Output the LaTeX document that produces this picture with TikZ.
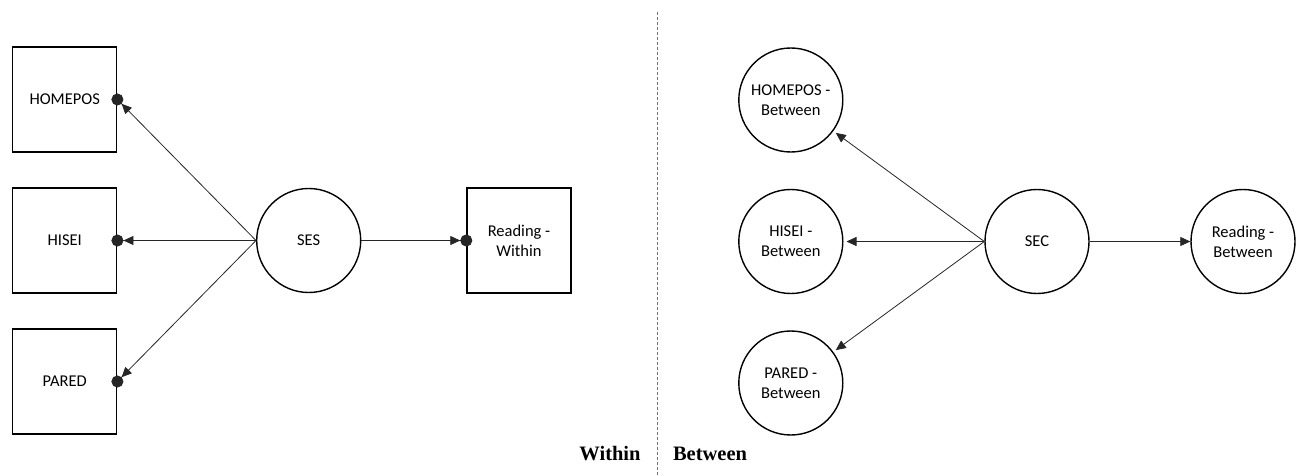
\documentclass[tikz,border=0pt]{standalone}
\usepackage{fontspec}
\setmainfont{Carlito}
\newfontfamily\labelfont{Liberation Serif}
\usetikzlibrary{arrows.meta}
\begin{document}
\begin{tikzpicture}[x=1pt,y=-1pt,
  every node/.style={font=\fontsize{16.5}{20}\selectfont, align=center, inner sep=0pt},
  obs/.style={draw, line width=1.4pt, minimum width=104pt, minimum height=105pt},
  lat/.style={draw, circle, line width=1.4pt, minimum size=104pt},
  conn/.style={line width=0.8pt, draw=black!85},
  tip/.style={-{Triangle[length=10pt,width=9pt]}},
  dottip/.style={-{Triangle[length=10pt,width=9pt] Circle[length=12pt,width=12pt]}, shorten >=-6pt},
  sect/.style={font=\labelfont\bfseries\fontsize{20.5}{24}\selectfont, anchor=base}
]
\useasboundingbox (0,0) rectangle (1306,476);
% Within part
\node[obs] (hp) at (64.7,99.5) {HOMEPOS};
\node[obs] (hi) at (64.7,240.5) {HISEI};
\node[obs] (pa) at (64.7,381.5) {PARED};
\node[lat] (ses) at (308.7,240.5) {SES};
\node[obs] (rw) at (519,240.5) {Reading -\\Within};
\draw[conn,dottip] (ses.west) -- (hp.east);
\draw[conn,dottip] (ses.west) -- (hi.east);
\draw[conn,dottip] (ses.west) -- (pa.east);
\draw[conn,dottip] (ses.east) -- (rw.west);
% divider
\coordinate (dtop) at (657.7,12);
\coordinate (dbot) at (657.7,476);
\draw[black!55, line width=1pt, dash pattern=on 3pt off 2pt] (dtop) -- (dbot);
\node[sect] (lw) at (610,460.5) {Within};
\node[sect] (lb) at (710,460.5) {Between};
% Between part
\node[lat] (hb) at (790.8,100) {HOMEPOS -\\Between};
\node[lat] (ib) at (790.8,241.5) {HISEI -\\Between};
\node[lat] (pb) at (790.8,383) {PARED -\\Between};
\node[lat] (sec) at (1037,241.5) {SEC};
\node[lat] (rb) at (1243,241.5) {Reading -\\Between};
\draw[conn,tip,shorten >=3pt] (sec.west) -- (hb);
\draw[conn,tip,shorten >=3pt] (sec.west) -- (ib);
\draw[conn,tip,shorten >=3pt] (sec.west) -- (pb);
\draw[conn,tip] (sec.east) -- (rb.west);
\end{tikzpicture}
\end{document}
